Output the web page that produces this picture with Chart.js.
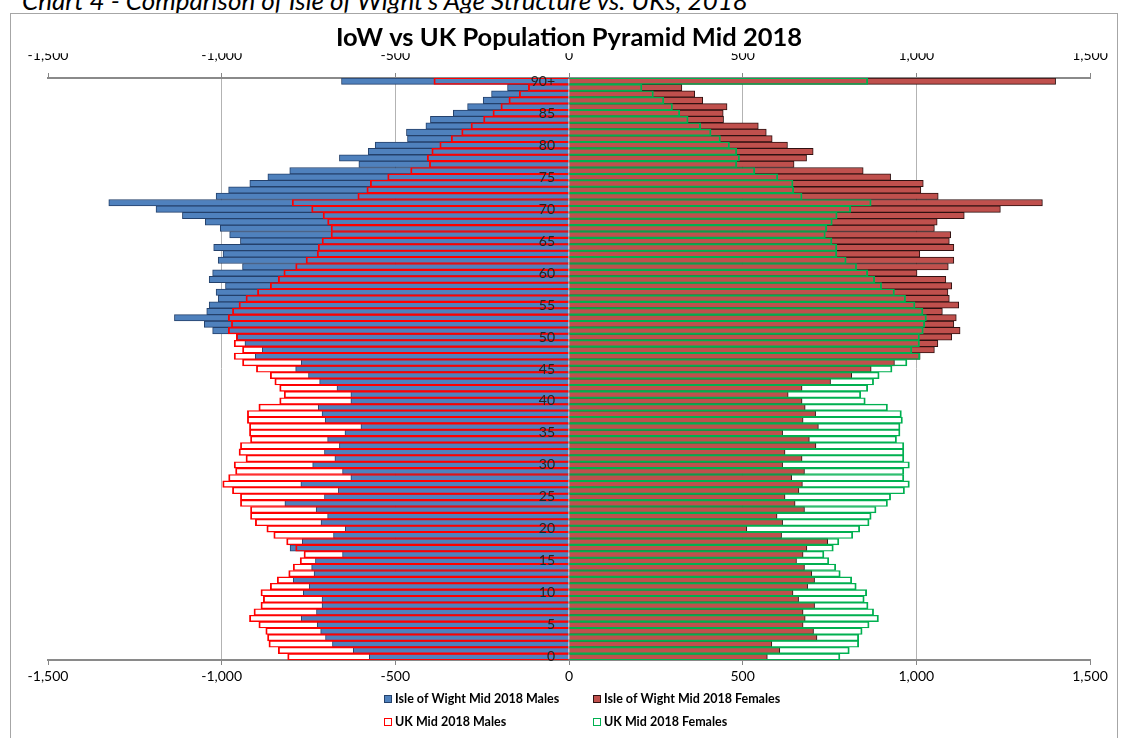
<!DOCTYPE html>
<html><head><meta charset="utf-8">
<script src="https://cdn.jsdelivr.net/npm/chart.js@4"></script>
<style>
html,body{margin:0;padding:0;background:#fff;overflow:hidden}
#wrap{position:relative;width:1124px;height:738px;overflow:hidden;background:#fff}
#heading{position:absolute;left:22px;top:-13px;font:italic 26px/26px Lato,sans-serif;color:#000;white-space:nowrap}
#frame{position:absolute;left:10px;top:13px;width:1108px;height:780px;border:1px solid #a6a6a6;box-sizing:border-box}
canvas{position:absolute;left:0;top:0}
</style></head>
<body><div id="wrap"><div id="heading">Chart 4 - Comparison of Isle of Wight's Age Structure vs. UKs, 2018</div><div id="frame"></div><canvas id="c" width="1124" height="738"></canvas></div>
<script>
const ages = ['0','1','2','3','4','5','6','7','8','9','10','11','12','13','14','15','16','17','18','19','20','21','22','23','24','25','26','27','28','29','30','31','32','33','34','35','36','37','38','39','40','41','42','43','44','45','46','47','48','49','50','51','52','53','54','55','56','57','58','59','60','61','62','63','64','65','66','67','68','69','70','71','72','73','74','75','76','77','78','79','80','81','82','83','84','85','86','87','88','89','90+'];

const iowMales = [-575,-621,-681,-701,-715,-725,-771,-727,-711,-711,-765,-748,-794,-734,-741,-730,-652,-803,-768,-678,-644,-714,-695,-728,-818,-704,-664,-772,-628,-652,-738,-674,-704,-661,-695,-645,-599,-702,-711,-722,-628,-628,-668,-718,-750,-787,-771,-903,-883,-933,-955,-1026,-1050,-1136,-1043,-1036,-1010,-1016,-989,-1036,-1026,-940,-1010,-996,-1023,-946,-977,-1004,-1047,-1113,-1189,-1325,-1016,-980,-919,-867,-804,-605,-661,-578,-558,-465,-468,-412,-399,-333,-292,-247,-223,-177,-655];

const iowFemales = [571,607,584,714,704,674,680,674,707,661,645,687,707,699,678,655,674,685,745,612,512,615,599,678,651,622,662,672,641,678,615,671,622,711,692,615,718,674,710,680,671,631,671,753,814,870,937,1011,1052,1062,1102,1126,1108,1115,1075,1122,1095,1091,1102,1085,1002,1092,1108,1010,1108,1095,1099,1052,1060,1138,1242,1363,1063,1013,1020,926,847,648,684,703,629,585,568,545,445,444,455,385,362,325,1401];

const ukMales = [-810,-837,-864,-868,-873,-893,-920,-907,-887,-880,-887,-860,-840,-807,-794,-774,-763,-787,-813,-850,-870,-903,-917,-917,-946,-946,-969,-997,-980,-960,-964,-930,-950,-946,-917,-920,-920,-926,-926,-893,-833,-820,-833,-847,-860,-900,-940,-964,-940,-964,-958,-981,-972,-981,-969,-950,-930,-897,-860,-837,-821,-787,-757,-725,-722,-711,-685,-685,-695,-708,-741,-797,-608,-582,-572,-522,-456,-402,-408,-395,-372,-339,-309,-282,-246,-219,-196,-173,-143,-117,-389];

const ukFemales = [780,807,834,834,844,864,891,877,861,850,857,827,814,781,768,748,734,761,777,817,837,864,870,884,917,926,966,980,964,964,980,964,964,964,943,953,953,960,957,917,853,840,860,877,893,930,973,1010,987,1009,1009,1020,1024,1029,1019,996,969,937,900,880,860,828,798,771,771,757,738,742,758,772,811,870,671,647,645,601,535,483,491,483,462,436,409,379,343,319,298,273,243,210,860];

const seriesNames = ['Isle of Wight Mid 2018 Males','Isle of Wight Mid 2018 Females','UK Mid 2018 Males','UK Mid 2018 Females'];
const xTicks = [-1500,-1000,-500,0,500,1000,1500];
const titleText = 'IoW vs UK Population Pyramid Mid 2018';

const FONT = 'Lato, sans-serif';
Chart.defaults.font.family = FONT;
Chart.defaults.color = '#000';

const fmt = v => Number(v).toLocaleString('en-US');

const legendPlugin = {
  id: 'colLegend',
  afterDraw(chart) {
    const ctx = chart.ctx;
    const cols = [384, 593];
    const rows = [699, 722];
    ctx.save();
    ctx.font = 'bold 12.5px ' + FONT;
    ctx.textBaseline = 'middle';
    ctx.textAlign = 'left';
    chart.data.datasets.forEach((ds, i) => {
      const x = cols[i % 2], y = rows[Math.floor(i / 2)];
      ctx.fillStyle = ds.legendFill;
      ctx.fillRect(x, y - 4, 7, 7);
      ctx.strokeStyle = ds.borderColor;
      ctx.lineWidth = 1;
      ctx.strokeRect(x + 0.5, y - 3.5, 7, 7);
      ctx.fillStyle = '#000';
      ctx.fillText(ds.label, x + 11, y);
    });
    ctx.restore();
  }
};

function fixHeight(h) { return s => { s.height = h; }; }

const outline = { top: 0.7, right: 1.2, bottom: 0.7, left: 1.2 };

new Chart(document.getElementById('c'), {
  type: 'bar',
  data: {
    labels: ages,
    datasets: [
      { label: seriesNames[0], data: iowMales, backgroundColor: '#4f81bd', borderColor: '#24416b', legendFill: '#4f81bd', borderWidth: 1, order: 1 },
      { label: seriesNames[1], data: iowFemales, backgroundColor: '#c0504d', borderColor: '#2e1111', legendFill: '#c0504d', borderWidth: 1, order: 1 },
      { label: seriesNames[2], data: ukMales, backgroundColor: 'rgba(255,255,255,0)', borderColor: '#ff0000', legendFill: '#ffffff', borderWidth: outline, order: 0 },
      { label: seriesNames[3], data: ukFemales, backgroundColor: 'rgba(255,255,255,0)', borderColor: '#00b050', legendFill: '#ffffff', borderWidth: outline, order: 0 }
    ]
  },
  options: {
    indexAxis: 'y',
    responsive: false,
    animation: false,
    datasets: { bar: { grouped: false, barPercentage: 1, categoryPercentage: 1 } },
    layout: { padding: { left: 48, right: 34, top: 0, bottom: 38 } },
    plugins: {
      legend: { display: false },
      tooltip: { enabled: false },
      title: { display: true, text: titleText, font: { size: 25.5, weight: 'bold', family: FONT, lineHeight: 1.2 }, color: '#000', padding: { top: 22.7, bottom: 0 } }
    },
    scales: {
      x: {
        type: 'linear', position: 'bottom', min: -1500, max: 1500,
        afterBuildTicks: s => { s.ticks = xTicks.map(v => ({ value: v })); },
        afterFit: fixHeight(40),
        ticks: { callback: fmt, padding: 3, font: { size: 14 }, color: '#000', maxRotation: 0 },
        grid: { color: c => (Math.abs(c.tick.value) === 1500 ? 'rgba(0,0,0,0)' : '#b3b3b3'), tickColor: '#868686', tickLength: 5, lineWidth: 1 },
        border: { color: '#8a8a8a', width: 2 }
      },
      x2: {
        type: 'linear', position: 'top', min: -1500, max: 1500,
        afterBuildTicks: s => { s.ticks = xTicks.map(v => ({ value: v })); },
        afterFit: fixHeight(24.7),
        ticks: { callback: fmt, padding: 9, font: { size: 14 }, color: '#000', maxRotation: 0 },
        grid: { drawOnChartArea: false, tickColor: '#868686', tickLength: 5 },
        border: { color: '#8a8a8a', width: 2 }
      },
      y: {
        type: 'category', position: 'center', reverse: true, offset: true,
        grid: { display: false, drawTicks: false },
        border: { display: false },
        ticks: { z: 1, autoSkip: false, padding: 14, font: { size: 14 }, color: '#222',
          callback: function (v, i) { return i % 5 === 0 ? this.getLabelForValue(v) : ''; } }
      }
    }
  },
  plugins: [legendPlugin]
});
</script>
</body></html>
